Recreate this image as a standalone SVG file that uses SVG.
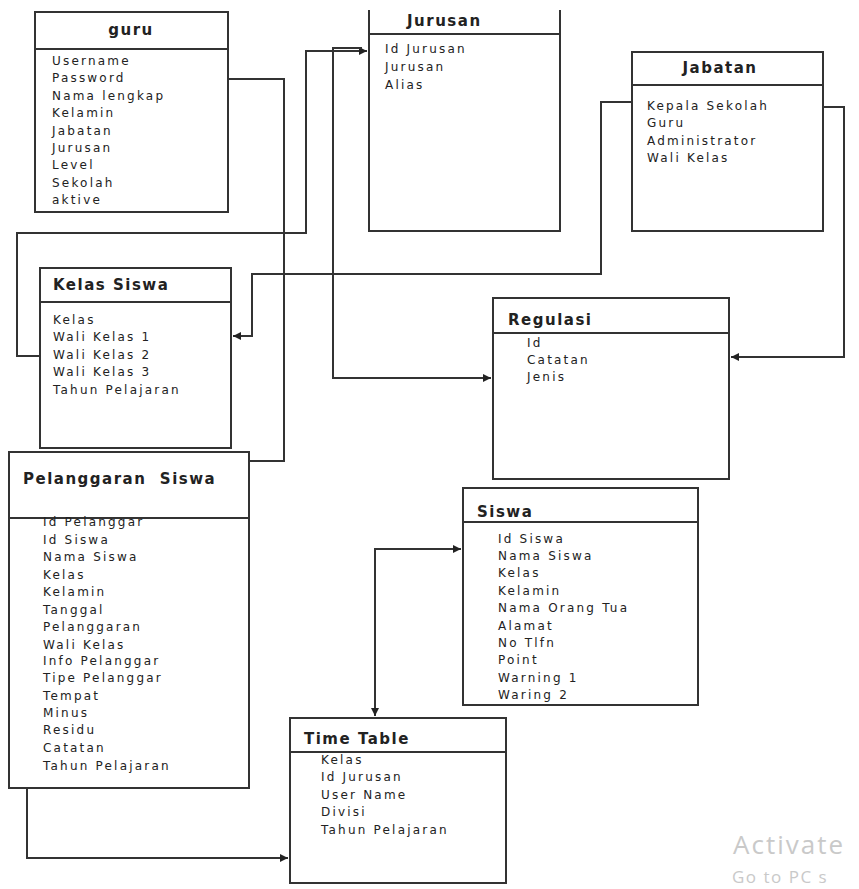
<svg xmlns="http://www.w3.org/2000/svg" width="859" height="889" viewBox="0 0 859 889">
<style>
.box{fill:#fff;stroke:#333;stroke-width:2}
.sep{stroke:#333;stroke-width:2}
.title{font-family:"DejaVu Sans",sans-serif;font-weight:bold;font-size:15px;fill:#222;letter-spacing:1.5px}
.item{font-family:"DejaVu Sans",sans-serif;font-size:12px;fill:#222;letter-spacing:2.2px}
.conn{fill:none;stroke:#333;stroke-width:2}
.wm{font-family:"Open Sans",sans-serif;fill:#c9c9c9}
</style>
<defs>
<marker id="arr" viewBox="0 0 8 8" refX="8" refY="4" markerWidth="8" markerHeight="8" markerUnits="userSpaceOnUse" orient="auto-start-reverse">
<path d="M0,0 L8,4 L0,8 z" fill="#222"/>
</marker>
</defs>
<rect width="859" height="889" fill="#fff"/>

<g id="connectors">
<path class="conn" d="M40,356 H17 V233 H306 V51 H367" marker-end="url(#arr)"/>
<path class="conn" d="M362,48 H333 V378 H491" marker-end="url(#arr)"/>
<path class="conn" d="M228,79 H284 V461 H249"/>
<path class="conn" d="M632,102 H601 V274 H252 V336 H233" marker-end="url(#arr)"/>
<path class="conn" d="M823,107 H844 V357 H731" marker-end="url(#arr)"/>
<path class="conn" d="M27,788 V858 H288" marker-end="url(#arr)"/>
<path class="conn" d="M461,549 H375 V716" marker-start="url(#arr)" marker-end="url(#arr)"/>
</g>

<g id="guru">
<rect class="box" x="35" y="12" width="193" height="200"/>
<line class="sep" x1="35" y1="49" x2="228" y2="49"/>
<text class="title" x="131" y="35" text-anchor="middle">guru</text>
<text class="item" x="52" y="65">Username</text>
<text class="item" x="52" y="82">Password</text>
<text class="item" x="52" y="100">Nama lengkap</text>
<text class="item" x="52" y="117">Kelamin</text>
<text class="item" x="52" y="135">Jabatan</text>
<text class="item" x="52" y="152">Jurusan</text>
<text class="item" x="52" y="169">Level</text>
<text class="item" x="52" y="187">Sekolah</text>
<text class="item" x="52" y="204">aktive</text>
</g>

<g id="jurusan">
<rect x="369" y="10" width="191" height="221" fill="#fff"/>
<path class="conn" d="M369,10 V231 H560 V10"/>
<line class="sep" x1="369" y1="34" x2="560" y2="34"/>
<text class="title" x="407" y="26">Jurusan</text>
<text class="item" x="385" y="53">Id Jurusan</text>
<text class="item" x="385" y="71">Jurusan</text>
<text class="item" x="385" y="89">Alias</text>
</g>

<g id="jabatan">
<rect class="box" x="632" y="52" width="191" height="179"/>
<line class="sep" x1="632" y1="85" x2="823" y2="85"/>
<text class="title" x="720" y="73" text-anchor="middle">Jabatan</text>
<text class="item" x="647" y="110">Kepala Sekolah</text>
<text class="item" x="647" y="127">Guru</text>
<text class="item" x="647" y="145">Administrator</text>
<text class="item" x="647" y="162">Wali Kelas</text>
</g>

<g id="kelas-siswa">
<rect class="box" x="40" y="268" width="191" height="180"/>
<line class="sep" x1="40" y1="302" x2="231" y2="302"/>
<text class="title" x="53" y="290">Kelas Siswa</text>
<text class="item" x="53" y="324">Kelas</text>
<text class="item" x="53" y="341">Wali Kelas 1</text>
<text class="item" x="53" y="359">Wali Kelas 2</text>
<text class="item" x="53" y="376">Wali Kelas 3</text>
<text class="item" x="53" y="394">Tahun Pelajaran</text>
</g>

<g id="regulasi">
<rect class="box" x="493" y="298" width="236" height="181"/>
<line class="sep" x1="493" y1="333" x2="729" y2="333"/>
<text class="title" x="508" y="325">Regulasi</text>
<text class="item" x="527" y="347">Id</text>
<text class="item" x="527" y="364">Catatan</text>
<text class="item" x="527" y="381">Jenis</text>
</g>

<g id="pelanggaran-siswa">
<rect class="box" x="9" y="452" width="240" height="336"/>
<line class="sep" x1="9" y1="518" x2="249" y2="518"/>
<text class="title" x="23" y="484" xml:space="preserve">Pelanggaran  Siswa</text>
<text class="item" x="43" y="526">Id Pelanggar</text>
<text class="item" x="43" y="544">Id Siswa</text>
<text class="item" x="43" y="561">Nama Siswa</text>
<text class="item" x="43" y="579">Kelas</text>
<text class="item" x="43" y="596">Kelamin</text>
<text class="item" x="43" y="614">Tanggal</text>
<text class="item" x="43" y="631">Pelanggaran</text>
<text class="item" x="43" y="649">Wali Kelas</text>
<text class="item" x="43" y="665">Info Pelanggar</text>
<text class="item" x="43" y="682">Tipe Pelanggar</text>
<text class="item" x="43" y="700">Tempat</text>
<text class="item" x="43" y="717">Minus</text>
<text class="item" x="43" y="734">Residu</text>
<text class="item" x="43" y="752">Catatan</text>
<text class="item" x="43" y="770">Tahun Pelajaran</text>
</g>

<g id="siswa">
<rect class="box" x="463" y="488" width="235" height="217"/>
<line class="sep" x1="463" y1="522" x2="698" y2="522"/>
<text class="title" x="477" y="517">Siswa</text>
<text class="item" x="498" y="543">Id Siswa</text>
<text class="item" x="498" y="560">Nama Siswa</text>
<text class="item" x="498" y="577">Kelas</text>
<text class="item" x="498" y="595">Kelamin</text>
<text class="item" x="498" y="612">Nama Orang Tua</text>
<text class="item" x="498" y="630">Alamat</text>
<text class="item" x="498" y="647">No Tlfn</text>
<text class="item" x="498" y="664">Point</text>
<text class="item" x="498" y="682">Warning 1</text>
<text class="item" x="498" y="699">Waring 2</text>
</g>

<g id="time-table">
<rect class="box" x="290" y="718" width="216" height="165"/>
<line class="sep" x1="290" y1="752" x2="506" y2="752"/>
<text class="title" x="304" y="744">Time Table</text>
<text class="item" x="321" y="764">Kelas</text>
<text class="item" x="321" y="781">Id Jurusan</text>
<text class="item" x="321" y="799">User Name</text>
<text class="item" x="321" y="816">Divisi</text>
<text class="item" x="321" y="834">Tahun Pelajaran</text>
</g>

<g id="watermark">
<text class="wm" x="733" y="854" font-size="26" letter-spacing="2">Activate</text>
<text class="wm" x="732" y="883" font-size="17" letter-spacing="1.5">Go to PC s</text>
</g>
</svg>
